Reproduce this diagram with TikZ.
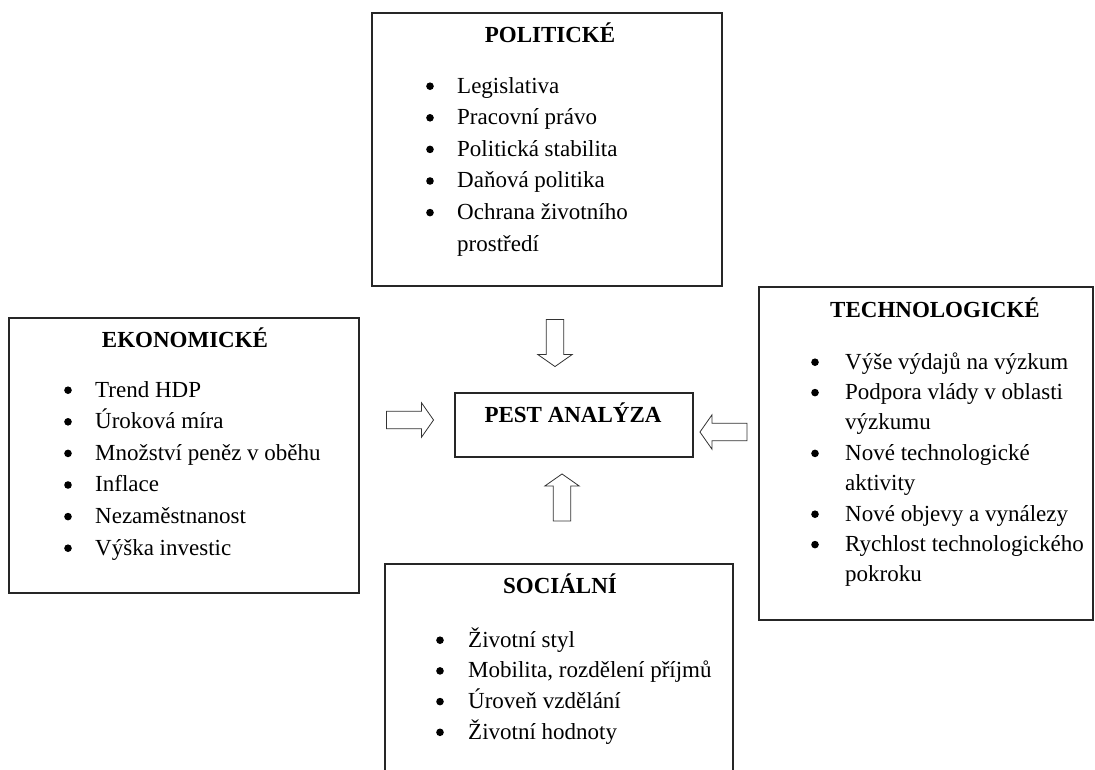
\documentclass[tikz,border=0pt]{standalone}
\usepackage{fontspec}
\setmainfont{Liberation Serif}
\usetikzlibrary{shapes.arrows}

% a round bullet sitting at x-height of the line, and one line of list text
\newcommand\dotat[3]{\node[bul] (#1) at (#2,#3-6.8) {};}
\newcommand\lineat[4]{\node[itm] (#1) at (#2,#3) {#4};}

\begin{document}
\begin{tikzpicture}[x=1pt,y=-1pt,
  panel/.style={draw=black!85, line width=1.1pt, anchor=north west,
                inner sep=0pt, outer sep=0pt},
  head/.style={font=\fontsize{23}{27}\selectfont\bfseries, anchor=base, inner sep=0pt},
  itm/.style={font=\fontsize{23}{27}\selectfont, anchor=base west, inner sep=0pt},
  bul/.style={circle, fill=black, inner sep=0pt, minimum size=7.6pt},
  blockarrow/.style={single arrow, draw=black!80, line width=0.8pt, fill=white,
                     inner sep=8.3pt, minimum height=47pt,
                     single arrow head extend=8.5pt, single arrow tip angle=110}
]
\clip (0,0) rectangle (1095,769);

% ---------- POLITICKÉ ----------
\node[panel, minimum width=350pt, minimum height=273pt] (pol) at (372,13) {};
\node[head] (polT) at (550,42.5) {POLITICKÉ};
\dotat{polB1}{430}{93}     \lineat{pol1}{457}{93}{Legislativa}
\dotat{polB2}{430}{124.6}  \lineat{pol2}{457}{124.6}{Pracovní právo}
\dotat{polB3}{430}{156.2}  \lineat{pol3}{457}{156.2}{Politická stabilita}
\dotat{polB4}{430}{187.8}  \lineat{pol4}{457}{187.8}{Daňová politika}
\dotat{polB5}{430}{219.4}  \lineat{pol5}{457}{219.4}{Ochrana životního}
                           \lineat{pol6}{457}{251}{prostředí}

% ---------- EKONOMICKÉ ----------
\node[panel, minimum width=350pt, minimum height=275pt] (eko) at (9,318) {};
\node[head] (ekoT) at (185,347) {EKONOMICKÉ};
\dotat{ekoB1}{68}{397}     \lineat{eko1}{95}{397}{Trend HDP}
\dotat{ekoB2}{68}{428.6}   \lineat{eko2}{95}{428.6}{Úroková míra}
\dotat{ekoB3}{68}{460.2}   \lineat{eko3}{95}{460.2}{Množství peněz v oběhu}
\dotat{ekoB4}{68}{491.8}   \lineat{eko4}{95}{491.8}{Inflace}
\dotat{ekoB5}{68}{523.4}   \lineat{eko5}{95}{523.4}{Nezaměstnanost}
\dotat{ekoB6}{68}{555}     \lineat{eko6}{95}{555}{Výška investic}

% ---------- TECHNOLOGICKÉ ----------
\node[panel, minimum width=334pt, minimum height=333pt] (tec) at (759,287) {};
\node[head] (tecT) at (935,317.5) {TECHNOLOGICKÉ};
\dotat{tecB1}{815}{369}    \lineat{tec1}{845}{369}{Výše výdajů na výzkum}
\dotat{tecB2}{815}{399.4}  \lineat{tec2}{845}{399.4}{Podpora vlády v oblasti}
                           \lineat{tec3}{845}{429.8}{výzkumu}
\dotat{tecB3}{815}{460.2}  \lineat{tec4}{845}{460.2}{Nové technologické}
                           \lineat{tec5}{845}{490.6}{aktivity}
\dotat{tecB4}{815}{521}    \lineat{tec6}{845}{521}{Nové objevy a vynálezy}
\dotat{tecB5}{815}{551.4}  \lineat{tec7}{845}{551.4}{Rychlost technologického}
                           \lineat{tec8}{845}{581.8}{pokroku}

% ---------- SOCIÁLNÍ (runs past the lower edge) ----------
\node[panel, minimum width=348pt, minimum height=240pt] (soc) at (385,564) {};
\node[head] (socT) at (560,593.5) {SOCIÁLNÍ};
\dotat{socB1}{440}{647}    \lineat{soc1}{468}{647}{Životní styl}
\dotat{socB2}{440}{677.7}  \lineat{soc2}{468}{677.7}{Mobilita, rozdělení příjmů}
\dotat{socB3}{440}{708.4}  \lineat{soc3}{468}{708.4}{Úroveň vzdělání}
\dotat{socB4}{440}{739.1}  \lineat{soc4}{468}{739.1}{Životní hodnoty}

% ---------- centre ----------
\node[panel, minimum width=238pt, minimum height=64pt] (pest) at (455,393) {};
\node[head] (pestT) at (573,422.5) {PEST ANALÝZA};

% ---------- block arrows towards the centre ----------
\node[blockarrow, shape border rotate=270] (arrPol) at (555,340) {};
\node[blockarrow, shape border rotate=0]   (arrEko) at (407,420) {};
\node[blockarrow, shape border rotate=180] (arrTec) at (726.5,432) {};
\node[blockarrow, shape border rotate=90]  (arrSoc) at (562,500.5) {};
\end{tikzpicture}
\end{document}
